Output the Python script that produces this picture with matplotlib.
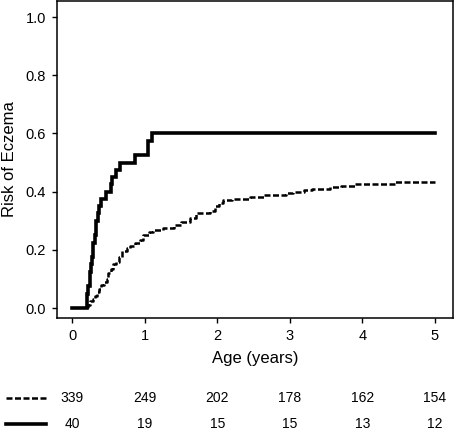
import matplotlib
matplotlib.use("Agg")
import matplotlib.pyplot as plt
from matplotlib.lines import Line2D
import matplotlib.transforms as mtransforms

plt.rcParams['font.family'] = ['Liberation Sans', 'DejaVu Sans']

# Solid group (n=40): step times and cumulative risk
solid_t = [0.00, 0.20, 0.21, 0.22, 0.24, 0.25, 0.26, 0.27, 0.28, 0.29, 0.31, 0.33,
           0.36, 0.37, 0.39, 0.46, 0.53, 0.55, 0.61, 0.66, 0.86, 1.04, 1.10, 5.00]
solid_r = [0.000, 0.025, 0.050, 0.075, 0.100, 0.125, 0.150, 0.175, 0.200, 0.225, 0.250, 0.300,
           0.325, 0.350, 0.375, 0.400, 0.425, 0.450, 0.475, 0.500, 0.525, 0.575, 0.600, 0.600]

# Dashed group (n=339)
dash_t = [0.20, 0.22, 0.25, 0.28, 0.31, 0.34, 0.37, 0.40, 0.44, 0.48, 0.50, 0.53, 0.56,
          0.60, 0.64, 0.68, 0.75, 0.80, 0.86, 0.93, 0.98, 1.06, 1.12, 1.25, 1.40, 1.50,
          1.62, 1.70, 1.90, 1.97, 2.02, 2.08, 2.20, 2.45, 2.65, 2.95, 3.05, 3.20, 3.30,
          3.55, 3.70, 3.90, 4.00, 4.45, 5.00]
dash_r = [0.003, 0.012, 0.024, 0.030, 0.042, 0.054, 0.066, 0.078, 0.090, 0.100, 0.120, 0.135, 0.150,
          0.160, 0.175, 0.195, 0.205, 0.215, 0.225, 0.235, 0.250, 0.260, 0.270, 0.275, 0.285, 0.295,
          0.310, 0.325, 0.335, 0.350, 0.360, 0.370, 0.375, 0.380, 0.390, 0.395, 0.400, 0.405, 0.410,
          0.415, 0.420, 0.425, 0.428, 0.432, 0.432]

# Numbers at risk
risk_ticks = [0, 1, 2, 3, 4, 5]
at_risk_dash = [339, 249, 202, 178, 162, 154]
at_risk_solid = [40, 19, 15, 15, 13, 12]

x_ticks = [0, 1, 2, 3, 4, 5]
y_ticks = [0.0, 0.2, 0.4, 0.6, 0.8, 1.0]

W, H = 454, 434
fig = plt.figure(figsize=(W / 100, H / 100), dpi=100)
ax = fig.add_axes([57 / W, 1 - 318 / H, (453 - 57) / W, 317 / H])

ax.plot(solid_t, solid_r, drawstyle='steps-post', color='black', lw=2.6,
        solid_joinstyle='miter')
ax.plot(dash_t, dash_r, drawstyle='steps-post', color='black', lw=1.8,
        dashes=(2.4, 1.0))

ax.set_xlim(-0.21, 5.25)
ax.set_ylim(-0.034, 1.055)
ax.set_xticks(x_ticks)
ax.set_xticklabels([str(v) for v in x_ticks])
ax.set_yticks(y_ticks)
ax.set_yticklabels([f"{v:.1f}" for v in y_ticks])
ax.tick_params(direction='out', length=3.5, width=1.0, labelsize=10.5, pad=4.5,
               top=False, right=False, color='black')
for s in ax.spines.values():
    s.set_linewidth(1.1)
    s.set_color('black')

ax.set_xlabel('Age (years)', fontsize=12)
ax.set_ylabel('Risk of Eczema', fontsize=12)
ax.yaxis.set_label_coords((10 - 57) / 396, 0.5)
ax.xaxis.set_label_coords(0.5, (318 - 358) / 317)
ax.xaxis.label.set_va('center')
ax.yaxis.label.set_va('center')

trans = mtransforms.blended_transform_factory(ax.transData, fig.transFigure)
y1 = 1 - 398 / H
y2 = 1 - 424 / H
for xv, n in zip(risk_ticks, at_risk_dash):
    ax.text(xv, y1, str(n), transform=trans, ha='center', va='center',
            fontsize=10, clip_on=False)
for xv, n in zip(risk_ticks, at_risk_solid):
    ax.text(xv, y2, str(n), transform=trans, ha='center', va='center',
            fontsize=10, clip_on=False)

fig.add_artist(Line2D([6 / W, 46 / W], [y1, y1], transform=fig.transFigure,
                      color='black', lw=1.8, dashes=(2.4, 1.0)))
fig.add_artist(Line2D([6 / W, 46 / W], [y2, y2], transform=fig.transFigure,
                      color='black', lw=2.6))

fig.savefig('out.png', dpi=100)
